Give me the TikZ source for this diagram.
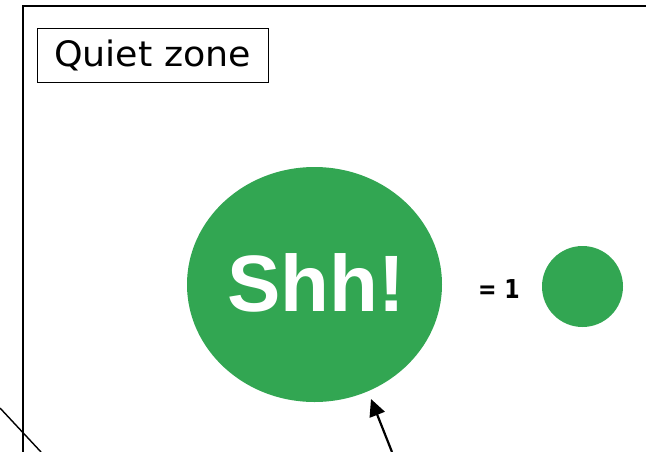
\documentclass[tikz,border=0pt]{standalone}
\usepackage{fontspec}
\setmainfont{DejaVu Sans}
\newfontfamily\shhfont{Liberation Sans}
\usetikzlibrary{arrows.meta}
\definecolor{shhgreen}{RGB}{50,166,82}
\tikzset{
  frameline/.style={line width=2pt, black},
  labelbox/.style={draw, line width=0.8pt, minimum width=231pt, minimum height=54pt, inner sep=0pt},
  disc/.style={fill=shhgreen, draw=none},
  thinline/.style={line width=1.4pt},
  pointer/.style={line width=2.2pt, -{Triangle[length=17pt,width=16pt]}}
}
\begin{document}
\begin{tikzpicture}[x=1pt,y=-1pt]
\useasboundingbox (0,0) rectangle (646,451);
% frame
\coordinate (fbl) at (23,452);
\coordinate (ftl) at (23,6);
\coordinate (ftr) at (647,6);
\draw[frameline] (fbl) -- (ftl) -- (ftr);
% title box
\node[labelbox] (title) at (152.5,55) {\scalebox{1.04}[1]{\fontsize{35}{40}\selectfont Quiet zone}};
% big disc
\fill[disc] (314.5,284.5) ellipse [x radius=127.5, y radius=117.5];
\node[text=white, inner sep=0pt] (shh) at (316,283) {\shhfont\bfseries\fontsize{80}{90}\selectfont Shh!};
% equals label
\node[inner sep=0pt] (eq) at (499,289) {\scalebox{0.85}[1]{\bfseries\fontsize{26}{30}\selectfont = 1}};
% small disc
\node[disc, circle, minimum size=81pt, inner sep=0pt] (small) at (582.5,286.5) {};
% diagonal line
\coordinate (d1) at (0,408);
\coordinate (d2) at (41,452);
\draw[thinline] (d1) -- (d2);
% arrow
\coordinate (a1) at (392,452);
\coordinate (a2) at (371,399);
\draw[pointer] (a1) -- (a2);
\end{tikzpicture}
\end{document}
